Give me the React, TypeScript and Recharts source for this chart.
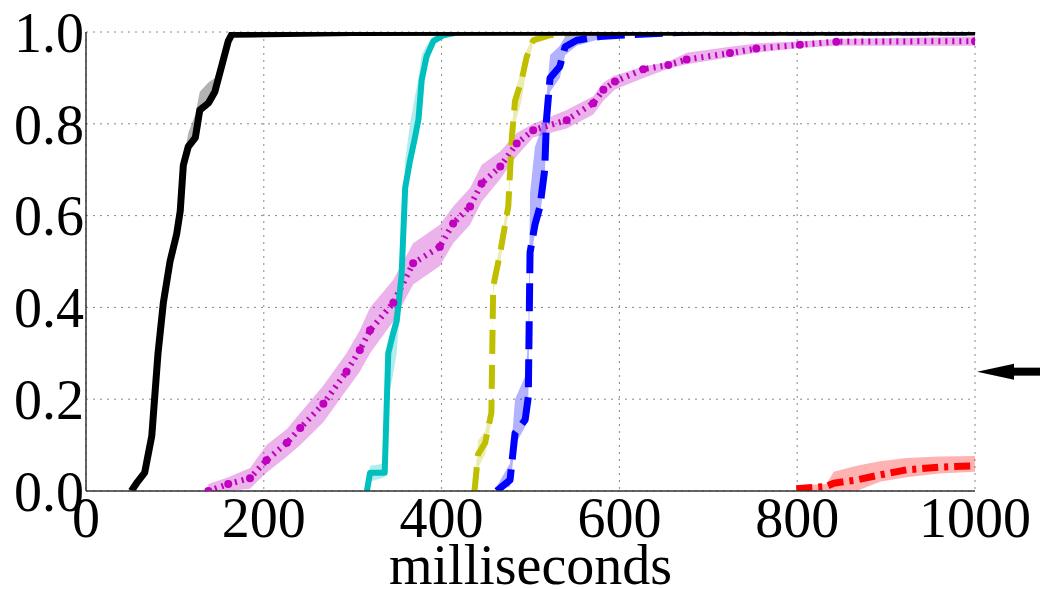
import {
  ComposedChart,
  Line,
  Area,
  XAxis,
  YAxis,
  CartesianGrid,
  ReferenceDot,
} from 'recharts';

// CDF curves, values (x in ms, y = fraction)
const blackX = [51, 58, 66, 74, 81, 87, 94.5, 102, 106, 109.5, 115, 123, 128, 137.6, 145, 154.5, 160, 164, 300, 1000];
const blackY = [0, 0.02, 0.04, 0.12, 0.3, 0.41, 0.5, 0.56, 0.61, 0.71, 0.75, 0.77, 0.83, 0.845, 0.87, 0.94, 0.98, 0.995, 0.999, 1.0];
const blackLo = [0, 0.01, 0.03, 0.11, 0.29, 0.4, 0.49, 0.55, 0.6, 0.7, 0.74, 0.76, 0.82, 0.835, 0.86, 0.93, 0.975, 0.99, 0.998, 1.0];
const blackHi = [0.01, 0.03, 0.05, 0.13, 0.31, 0.42, 0.51, 0.57, 0.62, 0.72, 0.78, 0.82, 0.87, 0.89, 0.9, 0.96, 0.99, 1.0, 1.0, 1.0];

const cyanX = [316, 319.5, 336, 340, 345, 349.5, 355, 359, 364.5, 370, 374, 377.6, 383, 390.7, 402, 420, 1000];
const cyanY = [0, 0.04, 0.04, 0.3, 0.34, 0.37, 0.47, 0.66, 0.72, 0.77, 0.81, 0.895, 0.946, 0.98, 0.993, 1.0, 1.0];
const cyanLo = [0, 0.02, 0.03, 0.2, 0.25, 0.3, 0.44, 0.64, 0.7, 0.76, 0.8, 0.88, 0.94, 0.975, 0.99, 0.998, 1.0];
const cyanHi = [0.01, 0.055, 0.06, 0.32, 0.37, 0.42, 0.52, 0.72, 0.8, 0.86, 0.9, 0.95, 0.97, 0.99, 1.0, 1.0, 1.0];

const yellowX = [437, 441, 449, 456, 458, 466, 475, 479, 482.6, 490, 495.7, 503, 522, 560, 1000];
const yellowY = [0, 0.08, 0.105, 0.17, 0.445, 0.52, 0.62, 0.77, 0.85, 0.895, 0.946, 0.982, 0.993, 1.0, 1.0];
const yellowLo = [0, 0.05, 0.08, 0.15, 0.43, 0.5, 0.6, 0.74, 0.8, 0.85, 0.92, 0.975, 0.99, 0.998, 1.0];
const yellowHi = [0.01, 0.11, 0.13, 0.2, 0.46, 0.54, 0.64, 0.79, 0.87, 0.92, 0.96, 0.99, 1.0, 1.0, 1.0];

const blueX = [462, 477, 482.6, 494, 497.5, 499.5, 505, 510.7, 516, 518, 522, 533, 539, 552, 578, 600.7, 680, 1000];
const blueY = [0, 0.024, 0.126, 0.155, 0.205, 0.52, 0.58, 0.62, 0.7, 0.81, 0.9, 0.925, 0.968, 0.982, 0.99, 0.993, 1.0, 1.0];
const blueLo = [0, 0.01, 0.1, 0.14, 0.19, 0.5, 0.56, 0.6, 0.68, 0.79, 0.87, 0.9, 0.95, 0.97, 0.985, 0.99, 0.998, 1.0];
const blueHi = [0.01, 0.06, 0.2, 0.25, 0.33, 0.65, 0.75, 0.78, 0.82, 0.86, 0.95, 0.97, 0.99, 0.995, 1.0, 1.0, 1.0, 1.0];

const magentaX = [137.6, 160, 184.5, 203, 226, 241, 267, 293, 308, 319.5, 345.7, 368, 398, 413, 432, 445, 466, 484.5, 503, 540.7, 570.6, 582, 595, 627, 655, 675.6, 724.4, 754, 803, 844, 1000];
const magentaY = [0, 0.015, 0.028, 0.067, 0.105, 0.137, 0.19, 0.26, 0.307, 0.35, 0.41, 0.496, 0.532, 0.583, 0.62, 0.67, 0.707, 0.757, 0.786, 0.808, 0.845, 0.874, 0.892, 0.919, 0.928, 0.94, 0.954, 0.964, 0.972, 0.979, 0.98];
const magentaLo = [0, 0, 0.005, 0.04, 0.075, 0.1, 0.15, 0.22, 0.26, 0.3, 0.37, 0.45, 0.49, 0.54, 0.58, 0.63, 0.68, 0.73, 0.77, 0.79, 0.82, 0.85, 0.875, 0.9, 0.92, 0.93, 0.945, 0.955, 0.965, 0.97, 0.97];
const magentaHi = [0.015, 0.03, 0.05, 0.1, 0.135, 0.17, 0.23, 0.3, 0.35, 0.4, 0.46, 0.54, 0.58, 0.62, 0.66, 0.71, 0.74, 0.78, 0.8, 0.83, 0.86, 0.89, 0.905, 0.925, 0.935, 0.955, 0.968, 0.975, 0.98, 0.985, 0.99];

const redX = [799, 833, 841, 867, 893, 923, 960, 1000];
const redY = [0.005, 0.01, 0.017, 0.024, 0.035, 0.046, 0.052, 0.055];
const redLo = [0, 0, 0, 0, 0.02, 0.03, 0.038, 0.042];
const redHi = [0.012, 0.015, 0.042, 0.055, 0.065, 0.072, 0.075, 0.076];

const xTicks = [0, 200, 400, 600, 800, 1000];
const yTicks = [0, 0.2, 0.4, 0.6, 0.8, 1.0];
const arrowLevel = 0.26;

const rows = (xs: number[], ys: number[], lo: number[], hi: number[]) =>
  xs.map((x, i) => ({ x, y: ys[i], band: [lo[i], hi[i]] }));

const series = [
  { key: 'red', data: rows(redX, redY, redLo, redHi), color: '#ff0000', width: 7, dash: '16 6 4 6' },
  { key: 'magenta', data: rows(magentaX, magentaY, magentaLo, magentaHi), color: '#bf00bf', width: 6, dash: '2 5' },
  { key: 'blue', data: rows(blueX, blueY, blueLo, blueHi), color: '#0000ff', width: 7, dash: '28 10' },
  { key: 'yellow', data: rows(yellowX, yellowY, yellowLo, yellowHi), color: '#bfbf00', width: 6, dash: '24 11' },
  { key: 'cyan', data: rows(cyanX, cyanY, cyanLo, cyanHi), color: '#00bfbf', width: 6, dash: undefined },
  { key: 'black', data: rows(blackX, blackY, blackLo, blackHi), color: '#000000', width: 7, dash: undefined },
];

const font = 'Liberation Serif, Times New Roman, serif';
const frame = '#333';

const Arrow = (props: any) => {
  const { cx, cy } = props;
  const tip = cx + 2;
  return (
    <g>
      <polygon points={`${tip},${cy} ${tip + 37},${cy - 8} ${tip + 37},${cy + 8}`} fill="#000" />
      <rect x={tip + 30} y={cy - 4} width={40} height={8} fill="#000" />
    </g>
  );
};

export default function App() {
  return (
    <div style={{ position: 'absolute', left: 0, top: 0, background: '#fff' }}>
      <ComposedChart width={1040} height={589} margin={{ top: 32, right: 65, bottom: 0, left: 0 }}>
        <CartesianGrid stroke="#888" strokeDasharray="2 5" xAxisId="x" yAxisId="y" />
        <XAxis
          xAxisId="x"
          type="number"
          dataKey="x"
          domain={[0, 1000]}
          ticks={xTicks}
          allowDataOverflow
          height={98}
          stroke={frame}
          strokeWidth={1.5}
          tickLine={false}
          tickSize={0}
          tickMargin={6}
          tick={{ fontSize: 56, fontFamily: font, fill: '#000' }}
          label={{ value: 'milliseconds', position: 'insideBottom', offset: 5, fontSize: 56, fontFamily: font, fill: '#000' }}
        />
        <XAxis xAxisId="top" orientation="top" type="number" domain={[0, 1000]} height={0} tick={false} tickLine={false} stroke={frame} strokeWidth={1.5} />
        <YAxis
          yAxisId="y"
          type="number"
          domain={[0, 1]}
          ticks={yTicks}
          allowDataOverflow
          width={86}
          stroke={frame}
          strokeWidth={1.5}
          tickLine={false}
          tickSize={0}
          tickMargin={2}
          tickFormatter={(v: number) => v.toFixed(1)}
          tick={{ fontSize: 56, fontFamily: font, fill: '#000' }}
        />
        <YAxis yAxisId="right" orientation="right" type="number" domain={[0, 1]} width={0} tick={false} tickLine={false} stroke={frame} strokeWidth={1.5} />
        {series.map((s) => (
          <Area
            key={`${s.key}-band`}
            xAxisId="x"
            yAxisId="y"
            data={s.data}
            dataKey="band"
            type="linear"
            stroke="none"
            fill={s.color}
            fillOpacity={0.3}
            isAnimationActive={false}
          />
        ))}
        {series.map((s) => (
          <Line
            key={s.key}
            xAxisId="x"
            yAxisId="y"
            data={s.data}
            dataKey="y"
            type="linear"
            stroke={s.color}
            strokeWidth={s.width}
            strokeDasharray={s.dash}
            strokeLinejoin="round"
            dot={s.key === 'magenta' ? { r: 4, fill: s.color, stroke: 'none' } : false}
            activeDot={false}
            isAnimationActive={false}
          />
        ))}
        <ReferenceDot xAxisId="x" yAxisId="y" x={1000} y={arrowLevel} ifOverflow="visible" shape={Arrow} />
      </ComposedChart>
    </div>
  );
}
